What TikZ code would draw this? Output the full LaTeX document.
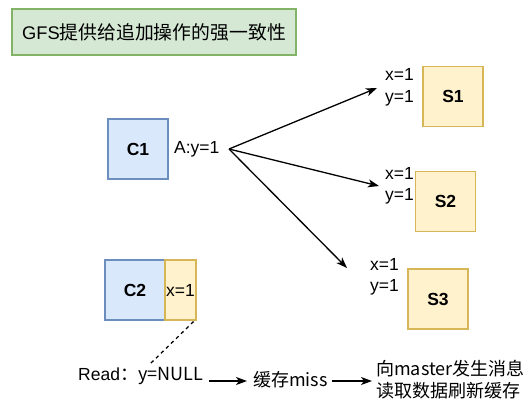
\documentclass[tikz,border=0pt]{standalone}
\usepackage{fontspec}
\setmainfont{Liberation Sans}
\newfontfamily\cjk[Scale=1.03]{Noto Sans CJK SC}
\usetikzlibrary{arrows.meta}
\definecolor{gfill}{HTML}{D5E8D4}
\definecolor{gline}{HTML}{82B366}
\definecolor{bfill}{HTML}{DAE8FC}
\definecolor{bline}{HTML}{6C8EBF}
\definecolor{yfill}{HTML}{FFF2CC}
\definecolor{yline}{HTML}{D6B656}
\tikzset{
  txt/.style={inner sep=0pt, font=\fontsize{17.5}{21.5}\selectfont},
  cbox/.style={draw=bline, fill=bfill, line width=1.1pt, minimum width=60pt, minimum height=60pt, inner sep=0pt, font=\fontsize{17.5}{21.5}\selectfont\bfseries},
  sbox/.style={draw=yline, fill=yfill, line width=1.1pt, minimum width=60pt, minimum height=60pt, inner sep=0pt, font=\fontsize{17.5}{21.5}\selectfont\bfseries},
  arr/.style={line width=1.3pt, -{Stealth[length=11pt,width=8pt,inset=3pt]}},
}
\begin{document}
\begin{tikzpicture}[x=1pt,y=-1pt]
\useasboundingbox (0,0) rectangle (532,413);
% title
\node[draw=gline, fill=gfill, line width=1.1pt, minimum width=284pt, minimum height=46pt, inner sep=0pt, font=\fontsize{18.3}{22}\selectfont] (title) at (154,32) {GFS\cjk{提供给追加操作的强一致性}};
% C1
\node[cbox] (c1) at (138,149) {C1};
\node[txt, anchor=west] (aop) at (174,149) {A:y=1};
\coordinate (src) at (229,149);
% servers
\node[sbox] (s1) at (453,96.5) {S1};
\node[sbox] (s2) at (445.5,201.5) {S2};
\node[sbox] (s3) at (438,299) {S3};
\node[txt, anchor=west, align=left] (l1) at (385,87.5) {x=1\\y=1};
\node[txt, anchor=west, align=left] (l2) at (385,186) {x=1\\y=1};
\node[txt, anchor=west, align=left] (l3) at (370,277) {x=1\\y=1};
\coordinate (e1) at (377,88);
\coordinate (e2) at (379,186);
\coordinate (e3) at (347,268);
\draw[arr] (src) -- (e1);
\draw[arr] (src) -- (e2);
\draw[arr] (src) -- (e3);
% C2
\node[cbox] (c2) at (135,290) {C2};
\node[draw=yline, fill=yfill, line width=1.1pt, minimum width=31pt, minimum height=60pt, inner sep=0pt, font=\fontsize{17.5}{21.5}\selectfont] (xb) at (180.5,290) {x=1};
% bottom flow
\node[txt, anchor=west] (read) at (78,376) {Read\cjk{：}y=NULL};
\coordinate (dend) at (150,364);
\draw[line width=1.3pt, dash pattern=on 3.5pt off 3.5pt] (xb.south east) ++(-3,1) -- (dend);
\node[txt, anchor=west] (miss) at (253,380) {\cjk{缓存}miss};
\node[txt, anchor=west, align=left] (fetch) at (376,379.5) {\cjk{向}master\cjk{发生消息}\\\cjk{读取数据刷新缓存}};
\draw[arr] (209,381) coordinate (a1) -- (247,381) coordinate (a2);
\draw[arr] (332,381) coordinate (b1) -- (372,381) coordinate (b2);
\end{tikzpicture}
\end{document}
